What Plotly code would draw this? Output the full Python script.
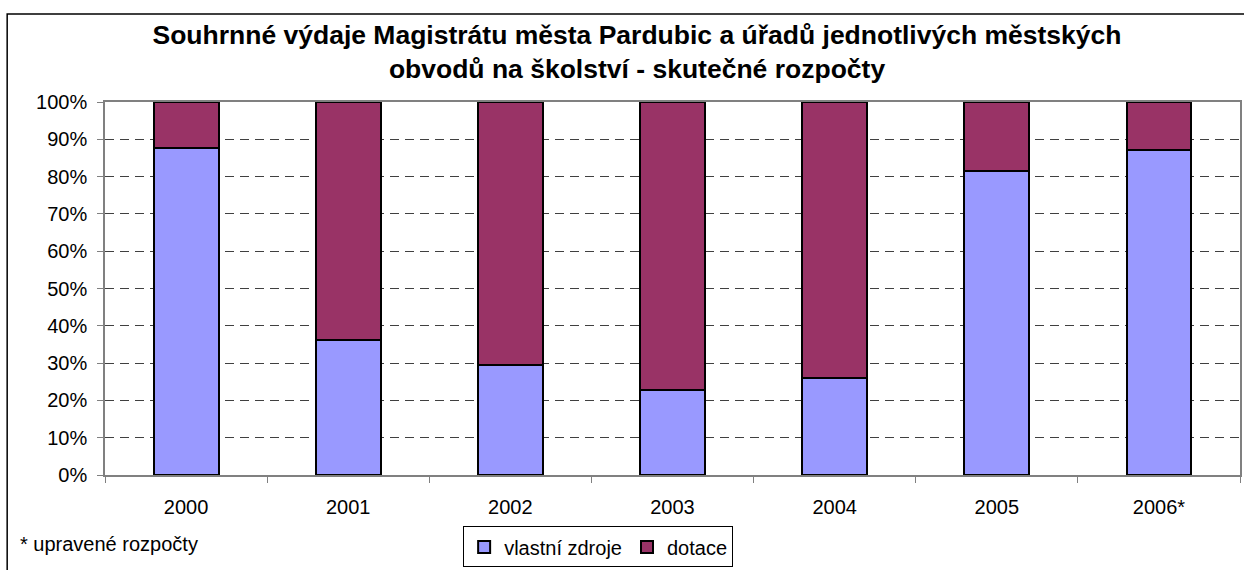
import plotly.graph_objects as go

years = ["2000", "2001", "2002", "2003", "2004", "2005", "2006*"]
vlastni = [87.8, 36.3, 29.4, 22.7, 26.1, 81.5, 87.1]
dotace = [round(100 - v, 1) for v in vlastni]
yticks = [0, 10, 20, 30, 40, 50, 60, 70, 80, 90, 100]
ytick_labels = [f"{t}%" for t in yticks]

W, H = 1244, 570
L, R, T, B = 105, 2, 102, 91
pw, ph = W - L - R, H - T - B
BOT = H - B

fig = go.Figure()
fig.add_trace(go.Bar(x=years, y=vlastni, name="vlastní zdroje",
                     marker=dict(color="#9999FF", line=dict(color="black", width=2)),
                     width=0.4))
fig.add_trace(go.Bar(x=years, y=dotace, name="dotace",
                     marker=dict(color="#993366", line=dict(color="black", width=2)),
                     width=0.4))

font = "Liberation Sans, Arial, sans-serif"
fig.update_layout(
    barmode="stack",
    width=W, height=H,
    margin=dict(l=L, r=R, t=T, b=B),
    paper_bgcolor="white", plot_bgcolor="white",
    font=dict(family=font, size=20, color="black"),
    title=dict(text="<b>Souhrnné výdaje Magistrátu města Pardubic a úřadů jednotlivých městských<br>obvodů na školství - skutečné rozpočty</b>",
               x=637 / W, xanchor="center", xref="container", y=1 - 44 / H, yanchor="middle",
               font=dict(size=26.5, family=font)),
    showlegend=True,
    legend=dict(orientation="h", x=(599 - L) / pw, xanchor="center",
                y=(BOT - 531) / ph, yanchor="top",
                bordercolor="black", borderwidth=1, bgcolor="white",
                font=dict(size=20), traceorder="normal",
                itemwidth=30, tracegroupgap=0),
    xaxis=dict(showline=True, linecolor="#808080", linewidth=1.5, mirror=True,
               ticks="outside", tickson="boundaries", ticklen=6, tickcolor="#808080",
               ticklabelstandoff=13, showgrid=False),
    yaxis=dict(range=[0, 100], tickvals=yticks, ticktext=ytick_labels,
               showline=True, linecolor="#808080", linewidth=1.5, mirror=True,
               ticks="outside", ticklen=6, tickcolor="#808080", ticklabelstandoff=6,
               showgrid=True, gridcolor="#404040", griddash="9px,6px", gridwidth=1,
               zeroline=False),
    shapes=[dict(type="rect", xref="paper", yref="paper",
                 x0=(7 - L) / pw, x1=1.02, y0=-(585 - BOT) / ph, y1=1 + (T - 13) / ph,
                 line=dict(color="black", width=1.5), layer="below")],
    annotations=[dict(text="* upravené rozpočty", xref="paper", yref="paper",
                      x=(18 - L) / pw, xanchor="left", y=(BOT - 549) / ph, yanchor="middle",
                      showarrow=False, font=dict(size=20))],
)

fig.write_html("out.html", config={"displayModeBar": False},
               post_script="document.body.style.margin='0';")
